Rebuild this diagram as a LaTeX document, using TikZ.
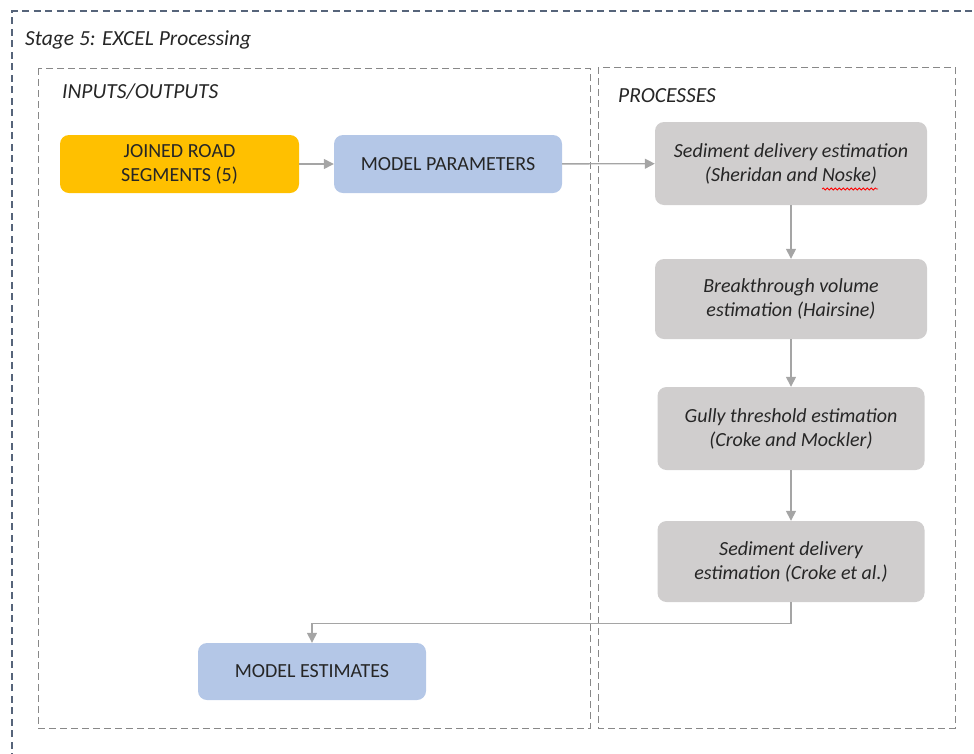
\documentclass[tikz,border=0pt]{standalone}
\usepackage{fontspec}
\setmainfont{Carlito}
\usetikzlibrary{arrows.meta,decorations.pathmorphing}
\definecolor{roadfill}{HTML}{FFC000}
\definecolor{modelfill}{HTML}{B4C7E7}
\definecolor{procfill}{HTML}{D0CECE}
\definecolor{linkgray}{HTML}{A5A5A5}
\definecolor{txt}{HTML}{262626}
\definecolor{stageline}{HTML}{56647A}
\definecolor{groupline}{HTML}{888888}
\begin{document}
\begin{tikzpicture}[x=1pt,y=-1pt,
  box/.style={rectangle, rounded corners=9pt, text=txt, align=center,
    font=\fontsize{20}{24}\selectfont, inner sep=0pt},
  roadbox/.style={box, fill=roadfill},
  modelbox/.style={box, fill=modelfill},
  procbox/.style={box, fill=procfill, font=\fontsize{20}{24}\selectfont\itshape},
  heading/.style={anchor=west, text=txt, font=\fontsize{21.5}{24}\selectfont\itshape, inner sep=0pt},
  stageframe/.style={draw=stageline, line width=1.2pt, dash pattern=on 7pt off 4.5pt},
  groupframe/.style={draw=groupline, line width=1pt, dash pattern=on 7pt off 4pt},
  link/.style={draw=linkgray, line width=1.4pt, -{Triangle[length=10pt,width=10pt]}}]
\useasboundingbox (0,0) rectangle (974,753);

% stage frame (runs past the page on the right and bottom)
\draw[stageframe] (12,760) -- (12,11) -- (985,11);

% group frames
\draw[groupframe] (38,68) rectangle (590,728);
\draw[groupframe] (598,67) rectangle (955,728);

\node[heading] (stage) at (25,40) {Stage 5: EXCEL Processing};
\node[heading] (io) at (62,92) {INPUTS/OUTPUTS};
\node[heading] (proc) at (618,96) {PROCESSES};

% inputs / outputs
\node[roadbox, minimum width=239pt, minimum height=58pt] (road) at (179.5,164) {JOINED ROAD\\SEGMENTS (5)};
\node[modelbox, minimum width=228pt, minimum height=58pt] (params) at (448,164) {MODEL PARAMETERS};
\node[modelbox, minimum width=228pt, minimum height=57pt] (est) at (312,671.5) {MODEL ESTIMATES};

% processes
\node[procbox, minimum width=272pt, minimum height=83pt] (sn) at (791,163.5) {Sediment delivery estimation\\(Sheridan and Noske)};
\node[procbox, minimum width=272pt, minimum height=80pt] (bt) at (791,299) {Breakthrough volume\\estimation (Hairsine)};
\node[procbox, minimum width=267pt, minimum height=83pt] (gully) at (791,428.5) {Gully threshold estimation\\(Croke and Mockler)};
\node[procbox, minimum width=267pt, minimum height=81pt] (croke) at (791,561.5) {Sediment delivery\\estimation (Croke et al.)};

% spell-check mark under "Noske"
\draw[red, line width=0.8pt, decorate, decoration={snake, amplitude=1pt, segment length=4pt}] (822,189) -- (878,189);

% connectors
\draw[link] (road) -- (params);
\draw[link] (params) -- (sn);
\draw[link] (sn) -- (bt);
\draw[link] (bt) -- (gully);
\draw[link] (gully) -- (croke);
\draw[link] (croke.south) -- ++(0,21) -| (est.north);
\end{tikzpicture}
\end{document}
